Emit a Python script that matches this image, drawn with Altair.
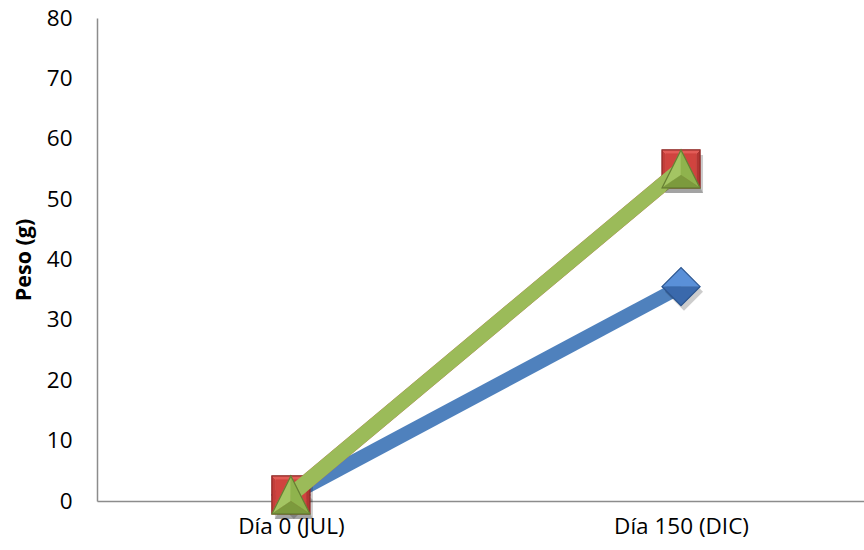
import altair as alt
import pandas as pd

# Category labels and weight values (g) per series
categorias = ["Día 0 (JUL)", "Día 150 (DIC)"]
dias = [0, 1]
serie_azul = [1.0, 35.5]
serie_roja = [1.0, 55.0]
serie_verde = [1.0, 55.0]

colores = {"azul": "#4F81BD", "roja": "#C0504D", "verde": "#9BBB59"}
anchos = {"azul": 14, "roja": 15, "verde": 15}

# Marker outline plus shaded facets (path, fill) giving a bevelled look
contornos = {
    "azul": "M-1,0L0,-1L1,0L0,1Z",
    "roja": "M-1,-1L1,-1L1,1L-1,1Z",
    "verde": "M0,-1L1,1L-1,1Z",
}
facetas = {
    "azul": [
        ("M-1,0L0,-1L1,0Z", "#5A90D8"),
        ("M-1,0L0,1L1,0Z", "#3A69AC"),
    ],
    "roja": [
        ("M-1,-1L-0.8,-0.8L-0.8,0.8L-1,1Z", "#C43E3A"),
        ("M1,-1L0.8,-0.8L0.8,0.8L1,1Z", "#B23532"),
        ("M-1,-1L1,-1L0,0Z", "#E35C57"),
        ("M-1,1L1,1L0,0Z", "#A9302D"),
        ("M-0.8,-0.8L0.8,-0.8L0.8,0.8L-0.8,0.8Z", "#D0443F"),
    ],
    "verde": [
        ("M0,-1L-1,1L0,0.33Z", "#A4C563"),
        ("M0,-1L1,1L0,0.33Z", "#8FB34D"),
        ("M-1,1L1,1L0,0.33Z", "#7C9A3D"),
    ],
}
bordes = {"azul": "#2C5690", "roja": "#8C2A27", "verde": "#667F33"}

FONT = "Open Sans"
SIZE = 1444

x_scale = alt.Scale(domain=[-0.497, 1.469], nice=False, zero=False)
y_scale = alt.Scale(domain=[0, 80], nice=False)

x_axis = alt.Axis(
    values=dias,
    labelExpr="datum.value == 0 ? '" + categorias[0] + "' : '" + categorias[1] + "'",
    title=None, grid=False, ticks=False, labelPadding=14,
    domainColor="#8C8C8C", domainWidth=1.5,
    labelFont=FONT, labelFontSize=22.5, labelColor="#000000",
)
y_axis = alt.Axis(
    values=list(range(0, 81, 10)), title="Peso (g)", grid=False, ticks=False,
    labelPadding=25, domainColor="#8C8C8C", domainWidth=1.5,
    labelFont=FONT, labelFontSize=22.5, labelColor="#000000",
    titleFont=FONT, titleFontSize=21.5, titleFontWeight="bold", titleColor="#000000",
    titlePadding=11,
)

xe = alt.X("dia:Q", scale=x_scale, axis=x_axis)
ye = alt.Y("peso:Q", scale=y_scale, axis=y_axis)


def tabla(nombre, valores):
    return pd.DataFrame({"dia": dias, "peso": valores, "serie": nombre})


def capas_linea(nombre, valores):
    return [
        alt.Chart(tabla(nombre, valores))
        .mark_line(color=colores[nombre], strokeWidth=anchos[nombre],
                   strokeCap="butt", strokeJoin="miter")
        .encode(x=xe, y=ye)
    ]


def capas_marca(nombre, valores):
    base = alt.Chart(tabla(nombre, valores))
    out = [
        base.mark_point(shape=contornos[nombre], size=SIZE, filled=True,
                        color="#000000", opacity=0.2, xOffset=3, yOffset=5)
        .encode(x=xe, y=ye)
    ]
    for path, fill in facetas[nombre]:
        out.append(
            base.mark_point(shape=path, size=SIZE, filled=True, fill=fill,
                            stroke=fill, strokeWidth=0.6, opacity=1)
            .encode(x=xe, y=ye)
        )
    out.append(
        base.mark_point(shape=contornos[nombre], size=SIZE, filled=False,
                        stroke=bordes[nombre], strokeWidth=1.2, opacity=1)
        .encode(x=xe, y=ye)
    )
    return out


layers = (
    capas_linea("azul", serie_azul)
    + capas_marca("azul", serie_azul)
    + capas_linea("roja", serie_roja)
    + capas_marca("roja", serie_roja)
    + capas_linea("verde", serie_verde)
    + capas_marca("verde", serie_verde)
)

chart = (
    alt.layer(*layers)
    .properties(
        width=767, height=483,
        autosize=alt.AutoSizeParams(type="none"),
        padding={"left": 97, "top": 18, "right": 0, "bottom": 49},
        background="#FFFFFF",
    )
    .configure_view(stroke=None)
)

chart.save("out.html", embed_options={"renderer": "svg", "actions": False})
